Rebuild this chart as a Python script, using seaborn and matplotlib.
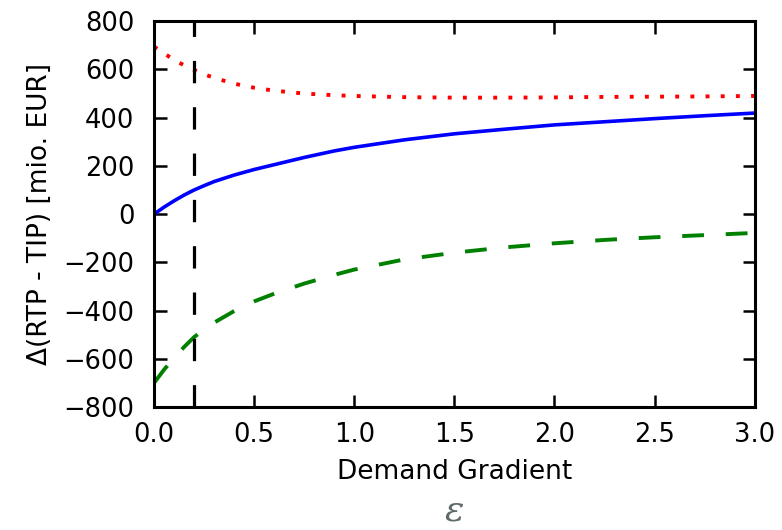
import numpy as np
import pandas as pd
import matplotlib
matplotlib.use("Agg")
import matplotlib.pyplot as plt
import seaborn as sns

# values
gradient = [0.0, 0.05, 0.1, 0.15, 0.2, 0.25, 0.3, 0.4, 0.5, 0.6, 0.75, 0.9, 1.0,
            1.25, 1.5, 1.75, 2.0, 2.25, 2.5, 2.75, 3.0]
delta_total = [0, 29, 55, 79, 100, 118, 135, 162, 185, 205, 235, 262, 277,
               308, 333, 352, 370, 383, 396, 408, 419]
delta_red = [695, 666, 640, 617, 598, 580, 565, 541, 524, 512, 500, 493, 490,
             485, 483, 483, 484, 486, 487, 488, 490]
delta_green = [-700, -645, -596, -551, -510, -478, -450, -402, -362, -330, -288, -252, -230,
               -188, -160, -138, -121, -107, -96, -87, -78]
marker_x = 0.2

df = pd.DataFrame({"eps": gradient, "total": delta_total,
                   "red": delta_red, "green": delta_green})

sns.set_style("ticks")
plt.rcParams["font.family"] = ["DejaVu Sans"]
plt.rcParams["text.color"] = "black"
plt.rcParams["axes.labelcolor"] = "black"

fig = plt.figure(figsize=(7.82, 5.30), dpi=100)
ax = fig.add_axes([0.197, 0.232, 0.768, 0.728])

sns.lineplot(data=df, x="eps", y="red", ax=ax, color="red", lw=2.8,
             linestyle=(0, (1, 2.9)), dash_capstyle="butt")
sns.lineplot(data=df, x="eps", y="total", ax=ax, color="blue", lw=2.6)
sns.lineplot(data=df, x="eps", y="green", ax=ax, color="green", lw=2.8,
             linestyle=(0, (5.6, 5.6)))
ax.axvline(marker_x, color="black", lw=2.3, linestyle=(0, (7, 7.5)))

ax.set_xlim(0, 3)
ax.set_ylim(-800, 800)
ax.set_xticks(np.arange(0, 3.01, 0.5))
ax.set_yticks(np.arange(-800, 801, 200))
ax.set_xticklabels([f"{v:.1f}" for v in np.arange(0, 3.01, 0.5)])
ax.set_yticklabels([f"{v}".replace("-", "\u2212") for v in range(-800, 801, 200)])

for s in ax.spines.values():
    s.set_visible(True)
    s.set_linewidth(2.2)
    s.set_color("black")
ax.tick_params(direction="in", top=True, right=True, length=9, width=1.8,
               labelsize=18.5, colors="black")
ax.tick_params(axis="x", pad=11)
ax.tick_params(axis="y", pad=14)

ax.set_xlabel("Demand Gradient", fontsize=19, labelpad=8)
ax.set_ylabel("\u0394(RTP - TIP) [mio. EUR]", fontsize=19, labelpad=8)

# epsilon symbol below the axis label
fig.text(0.58, 0.004, r"$\varepsilon$", fontsize=26, color="#5f6b6b",
         math_fontfamily="dejavuserif", ha="center", va="bottom")

fig.savefig("out.png", dpi=100)
